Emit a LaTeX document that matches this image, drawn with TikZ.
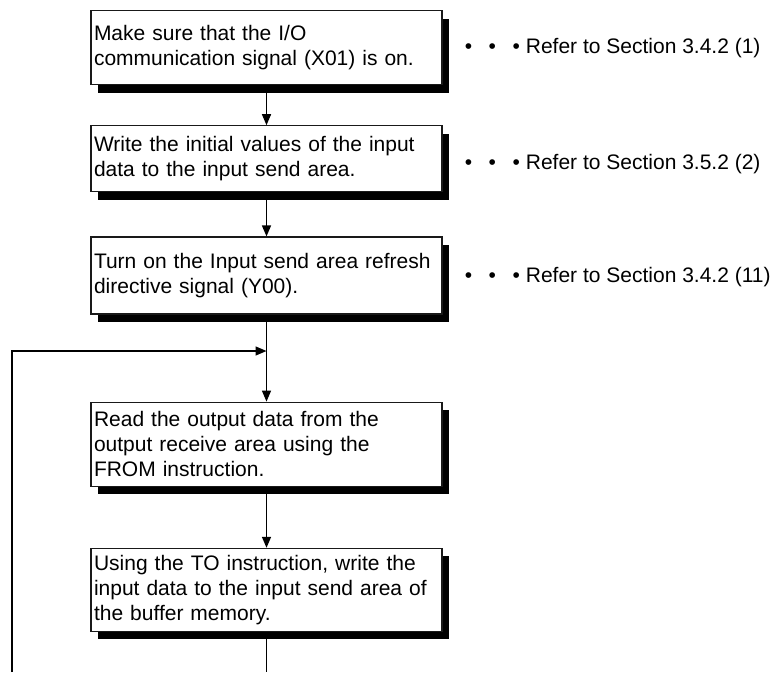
\documentclass[tikz,border=0pt]{standalone}
\usepackage{fontspec}
\setmainfont{Liberation Sans}
\usetikzlibrary{arrows.meta,positioning,shadows}
\tikzset{
  flow box/.style={draw=black!90,fill=white,line width=1.2pt,align=left,text width=345pt,inner xsep=3pt,inner ysep=5pt,font=\fontsize{21}{25}\selectfont,drop shadow={shadow xshift=7pt,shadow yshift=-8pt,fill=black,opacity=1}},
  flow arrow/.style={-{Triangle[length=11pt,width=9pt]},line width=1.4pt,draw=black},
  flow line/.style={line width=1.4pt,draw=black},
  ref note/.style={inner sep=0pt,font=\fontsize{21}{25}\selectfont}
}
\newcommand{\refdots}{\textbullet\hspace{16.6pt}\textbullet\hspace{16.6pt}\textbullet\ }
\begin{document}
\begin{tikzpicture}[x=1pt,y=-1pt]
  \useasboundingbox (0,0) rectangle (778,672);
  \node[flow box,minimum height=74pt,anchor=north] (check) at (266.5,10) {Make sure that the I/O\\communication signal (X01) is on.};
  \node[flow box,minimum height=66pt,below=40pt of check] (initial) {Write the initial values of the input\\data to the input send area.};
  \node[flow box,minimum height=77pt,below=44pt of initial] (refresh) {Turn on the Input send area refresh\\directive signal (Y00).};
  \node[flow box,minimum height=84pt,below=87pt of refresh] (readout) {Read the output data from the\\output receive area using the\\FROM instruction.};
  \node[flow box,minimum height=83pt,below=61pt of readout] (writein) {Using the TO instruction, write the\\input data to the input send area of\\the buffer memory.};
  \node[ref note,right=22pt of check] (ref1) {\refdots Refer to Section 3.4.2 (1)};
  \node[ref note,right=22pt of initial,yshift=-5pt] (ref2) {\refdots Refer to Section 3.5.2 (2)};
  \node[ref note,right=22pt of refresh,yshift=-2pt] (ref3) {\refdots Refer to Section 3.4.2 (11)};
  \coordinate (merge) at (readout.north |- 0,351);
  \coordinate (bottom) at (0,672);
  \coordinate (loopfoot) at (12,672);
  \draw[flow arrow] (check) -- (initial);
  \draw[flow arrow] (initial) -- (refresh);
  \draw[flow arrow] (refresh) -- (readout);
  \draw[flow arrow] (readout) -- (writein);
  \draw[flow line] (writein.south) -- (writein.south |- bottom);
  \draw[flow arrow] (loopfoot) |- (merge);
\end{tikzpicture}
\end{document}
